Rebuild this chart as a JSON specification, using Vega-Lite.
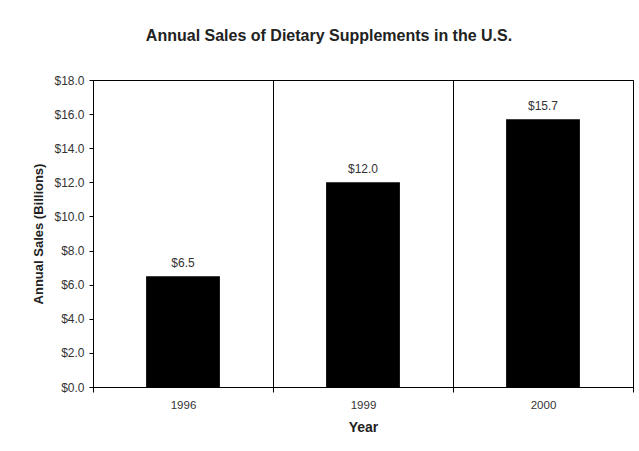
{
  "$schema": "https://vega.github.io/schema/vega-lite/v6.json",
  "autosize": "none",
  "width": 540,
  "height": 307,
  "padding": {"left": 93, "top": 80, "right": 6, "bottom": 64},
  "background": "white",
  "config": {
    "font": "Liberation Sans",
    "view": {"stroke": "black", "strokeWidth": 1},
    "axis": {"labelFont": "Liberation Sans", "titleFont": "Liberation Sans"}
  },
  "title": {
    "text": "Annual Sales of Dietary Supplements in the U.S.",
    "fontSize": 16,
    "fontWeight": "bold",
    "color": "#222",
    "anchor": "middle",
    "dx": -34,
    "offset": 30
  },
  "data": {
    "values": [
      {"Year": "1996", "Sales": 6.5},
      {"Year": "1999", "Sales": 12.0},
      {"Year": "2000", "Sales": 15.7}
    ]
  },
  "encoding": {
    "x": {
      "field": "Year",
      "type": "nominal",
      "sort": null,
      "scale": {"paddingInner": 0, "paddingOuter": 0},
      "axis": {
        "title": "Year",
        "labelAngle": 0,
        "labelFontSize": 11.5,
        "labelColor": "#333",
        "titleFontSize": 14,
        "titleFontWeight": "bold",
        "titleColor": "#222",
        "titlePadding": 10,
        "tickBand": "extent",
        "grid": true,
        "gridColor": "black",
        "gridOpacity": 1,
        "gridWidth": 1,
        "domainColor": "black",
        "tickColor": "black",
        "tickSize": 5,
        "labelPadding": 7
      }
    },
    "y": {
      "field": "Sales",
      "type": "quantitative",
      "scale": {"domain": [0, 18]},
      "axis": {
        "title": "Annual Sales (Billions)",
        "values": [0, 2, 4, 6, 8, 10, 12, 14, 16, 18],
        "format": "$.1f",
        "grid": false,
        "labelFontSize": 12,
        "labelColor": "#333",
        "titleFontSize": 13,
        "titleFontWeight": "bold",
        "titleColor": "#222",
        "titlePadding": 8,
        "domainColor": "black",
        "tickColor": "black",
        "tickSize": 4,
        "labelPadding": 5
      }
    }
  },
  "layer": [
    {
      "mark": {"type": "bar", "color": "black", "width": {"band": 0.41}}
    },
    {
      "mark": {"type": "text", "baseline": "bottom", "dy": -6, "fontSize": 12, "color": "#333"},
      "encoding": {
        "text": {"field": "Sales", "type": "quantitative", "format": "$.1f"}
      }
    }
  ]
}
